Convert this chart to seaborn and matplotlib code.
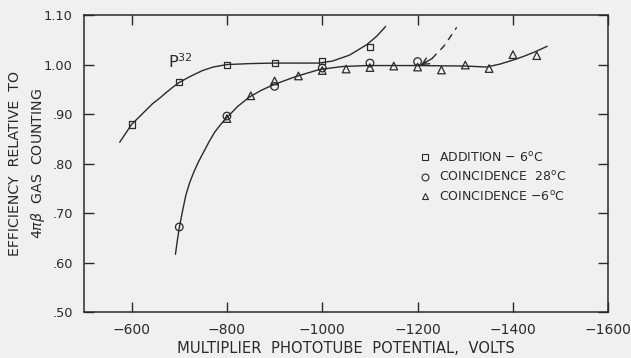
import numpy as np
import pandas as pd
import matplotlib
matplotlib.use("Agg")
import matplotlib.pyplot as plt
from matplotlib.ticker import FuncFormatter
from matplotlib.lines import Line2D
import seaborn as sns

# measured points (volts, efficiency relative to 4 pi beta gas counting)
add_volts = [-600, -700, -800, -900, -1000, -1100]
add_eff = [0.879, 0.964, 1.000, 1.003, 1.007, 1.035]

c28_volts = [-700, -800, -900, -1000, -1100, -1200]
c28_eff = [0.672, 0.896, 0.956, 0.993, 1.003, 1.006]

c6_volts = [-800, -850, -900, -950, -1000, -1050, -1100, -1150, -1200, -1250, -1300, -1350, -1400, -1450]
c6_eff = [0.891, 0.937, 0.967, 0.977, 0.988, 0.991, 0.994, 0.997, 0.995, 0.989, 0.999, 0.992, 1.020, 1.018]

# hand drawn curves
curve_add_volts = [-575, -600, -623, -644, -660, -672, -686, -700, -725, -749, -771, -800, -850, -900,
                   -950, -992, -1021, -1057, -1093, -1114, -1133]
curve_add_eff = [0.843, 0.879, 0.901, 0.921, 0.933, 0.943, 0.954, 0.964, 0.977, 0.988, 0.995, 1.000, 1.002, 1.003,
                 1.003, 1.003, 1.007, 1.019, 1.040, 1.057, 1.077]

curve_coinc_volts = [-692, -696, -700, -704, -707, -714, -722, -731, -741, -752, -763, -774, -786, -798, -822,
                     -848, -872, -897, -945, -994, -1042, -1094, -1194, -1300, -1345, -1373,
                     -1400, -1421, -1447, -1472]
curve_coinc_eff = [0.617, 0.645, 0.670, 0.690, 0.705, 0.737, 0.762, 0.784, 0.805, 0.825, 0.845, 0.863, 0.878, 0.891, 0.915,
                   0.935, 0.948, 0.959, 0.976, 0.990, 0.996, 0.998, 0.998, 0.997, 0.995, 1.001,
                   1.009, 1.016, 1.026, 1.037]

dash_volts = [-1207, -1230, -1255, -1282]
dash_eff = [0.999, 1.012, 1.037, 1.075]

labels = ["ADDITION \u2212 6$^{\\mathrm{o}}$C",
          "COINCIDENCE  28$^{\\mathrm{o}}$C",
          "COINCIDENCE \u22126$^{\\mathrm{o}}$C"]

sns.set_theme(style="ticks")
plt.rcParams['font.family'] = ['DejaVu Sans']
ink = "#2a2a2a"
bg = "#f0f0f0"

fig = plt.figure(figsize=(6.31, 3.58), dpi=100, facecolor=bg)
ax = fig.add_axes([0.133, 0.128, 0.831, 0.83], facecolor=bg)

sns.lineplot(x=curve_add_volts, y=curve_add_eff, sort=False, estimator=None, color=ink, lw=1.0, ax=ax)
sns.lineplot(x=curve_coinc_volts, y=curve_coinc_eff, sort=False, estimator=None, color=ink, lw=1.0, ax=ax)
sns.lineplot(x=dash_volts, y=dash_eff, sort=False, estimator=None, color=ink, lw=1.0, ax=ax,
             linestyle=(0, (5, 4)))
# little arrow head at the start of the dashed curve
ax.annotate("", xy=(dash_volts[0], dash_eff[0]), xytext=(dash_volts[1], dash_eff[1]),
            arrowprops=dict(arrowstyle="->", color=ink, lw=1.0, shrinkA=0, shrinkB=0))

sns.scatterplot(x=add_volts, y=add_eff, marker="s", s=19, facecolor="none", edgecolor=ink,
                linewidth=0.9, ax=ax)
sns.scatterplot(x=c28_volts, y=c28_eff, marker="o", s=30, facecolor="none", edgecolor=ink,
                linewidth=0.9, ax=ax)
sns.scatterplot(x=c6_volts, y=c6_eff, marker="^", s=30, facecolor="none", edgecolor=ink,
                linewidth=0.9, ax=ax)

# legend
handles = [Line2D([], [], ls="none", marker=m, mfc="none", mec=ink, mew=0.8, ms=5)
           for m in ["s", "o", "^"]]
ax.legend(handles, labels, loc="upper left", bbox_to_anchor=(0.617, 0.582),
          frameon=False, fontsize=9, handletextpad=0.6, labelspacing=0.45,
          handlelength=1.0, labelcolor=ink)

ax.text(-676, 0.993, "P$^{32}$", fontsize=11.5, color=ink, ha="left", va="baseline")

ax.set_xlim(-500, -1600)
ax.set_ylim(0.5, 1.1)
ax.set_xticks([-600, -800, -1000, -1200, -1400, -1600])
ax.set_yticks([0.5, 0.6, 0.7, 0.8, 0.9, 1.0, 1.1])
ax.yaxis.set_major_formatter(FuncFormatter(lambda v, p: ("%.2f" % v).lstrip("0")))
ax.xaxis.set_major_formatter(FuncFormatter(lambda v, p: "\u2212%d" % abs(round(v))))
ax.tick_params(direction="in", top=True, right=True, length=7, width=1.0, color=ink,
               labelsize=10, labelcolor=ink, pad=8)
ax.tick_params(axis="y", labelsize=9.3)
for sp in ax.spines.values():
    sp.set_color(ink)
    sp.set_linewidth(1.1)

ax.set_xlabel("MULTIPLIER  PHOTOTUBE  POTENTIAL,  VOLTS", fontsize=10.6, color=ink, labelpad=3)
ax.set_ylabel("EFFICIENCY  RELATIVE  TO\n4$\\pi\\beta$  GAS  COUNTING", fontsize=10.2, color=ink,
              linespacing=1.5)
ax.yaxis.set_label_coords(-0.071, 0.5)

fig.savefig("out.png", dpi=100, facecolor=bg)
